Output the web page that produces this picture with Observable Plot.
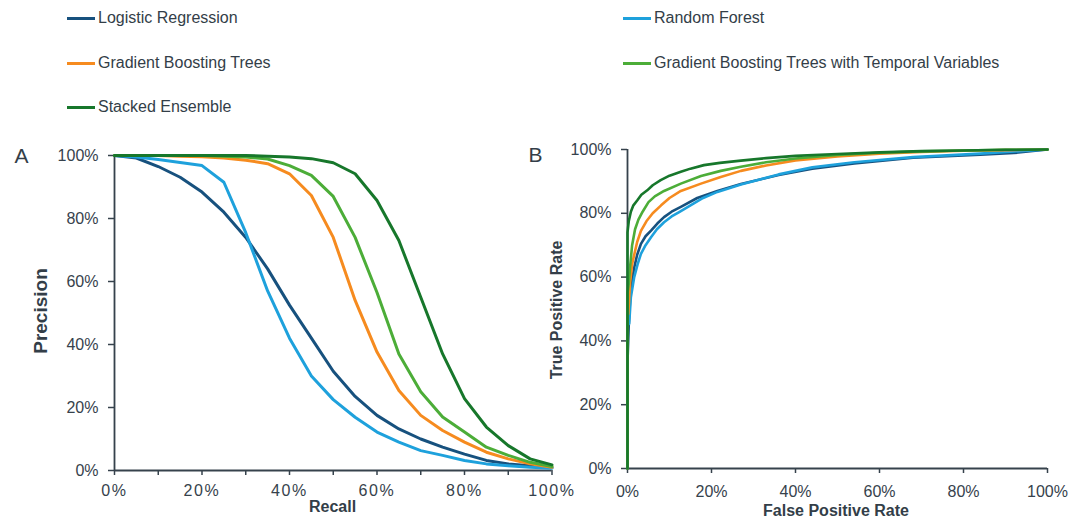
<!DOCTYPE html>
<html><head><meta charset="utf-8">
<script src="https://cdn.jsdelivr.net/npm/d3@7"></script>
<script src="https://cdn.jsdelivr.net/npm/@observablehq/plot@0.6"></script>
<style>
body{margin:0;background:#fff;font-family:"Liberation Sans",Arial,sans-serif;color:#333e48}
#wrap{position:relative;width:1083px;height:521px;overflow:hidden}
.abs{position:absolute;white-space:nowrap;line-height:1}
.leg{position:absolute;display:flex;align-items:center;font-size:16px;height:20px;white-space:nowrap}
.sw{width:28px;height:3px;margin-right:3px}
.panel{position:absolute;top:130px}
</style></head><body><div id="wrap"></div>
<script>
// ---------- data ----------
const modelNames = ["Logistic Regression","Random Forest","Gradient Boosting Trees","Gradient Boosting Trees with Temporal Variables","Stacked Ensemble"];
const modelColors = ["#17517e","#1ea1dc","#f68b1f","#4cad38","#17772b"];

// Panel A: precision (%) at recall (%)
const recall   = [0,5,10,15,20,25,30,35,40,45,50,55,60,65,70,75,80,85,90,95,100];
const precLR   = [100,99.2,96.5,93.1,88.4,82,74,64,52.5,42,31.5,23.5,17.5,13.2,10,7.4,5.2,3.2,2.1,1.5,0.9];
const precRF   = [100,99.5,98.7,97.8,96.8,91.5,75.5,57,42,30,22.5,16.9,12.2,9,6.3,4.8,3.2,2.1,1.5,1,0.7];
const precGBT  = [100,100,100,99.8,99.6,99.2,98.5,97.4,94.2,87.3,74,54,37.6,25.4,17.5,12.7,9,5.8,3.7,2.1,1];
const precGBTT = [100,100,100,100,100,99.8,99.5,98.9,96.8,93.7,87,74,56.5,37,25,17,12.2,7.4,4.8,2.6,1.3];
const precSE   = [100,100,100,100,100,100,100,99.8,99.5,99,97.7,94.2,85.7,73,55,37,22.8,13.8,7.9,3.7,1.8];

// Panel B: ROC curves, false positive rate (%) and true positive rate (%)
const fprLR   = [0,0,0.3,0.6,1,1.6,2.3,3.2,4.3,5.6,7.1,8.7,10.5,12.7,16.6,21.4,27,36,44,54,68,84,92,100];
const tprLR   = [0,33.5,45,52.7,58,63,67,70.4,72.8,74.6,76.8,78.8,80.5,82,84.8,87,89.2,92,94,95.6,97.4,98.4,98.9,100];
const fprRF   = [0,0,0.4,0.8,1.6,2.4,3.2,4.3,5.6,7,8.7,10.5,12.3,15,18,21.4,27,36,44,54,68,84,100];
const tprRF   = [0,45,45.4,53.7,60,64,67.3,70,72.5,75,77.2,79,80.4,82.5,84.8,86.7,89,92.2,94.4,96,97.6,98.7,100];
const fprGBT  = [0,0,0.2,0.6,1.1,1.6,2.3,3.2,4.5,6,8,10,12.7,17.5,22.2,27,33,40,50,60,70,80,90,100];
const tprGBT  = [0,48,48.5,58,64,67,71,74.5,77.5,80,82.5,84.8,87,89.3,91.4,93.3,95,96.6,97.8,98.7,99.2,99.6,99.8,100];
const fprGBTT = [0,0,0.3,0.6,1.1,1.8,2.6,3.6,5,6.5,8.7,12.7,17.5,22.2,27,33,40,50,60,70,80,90,100];
const tprGBTT = [0,55,58,63,70,75,78,80.5,83.5,85.3,87,89.3,91.7,93.3,94.6,96,97.2,98.3,99,99.4,99.7,99.9,100];
const fprSE   = [0,0,0.3,0.8,1.4,2.3,3.3,4.7,6,7.9,10,12.7,15,18.2,22,27,33,40,50,60,70,80,90,100];
const tprSE   = [0,74,77.5,80.5,82.5,84,85.8,87.2,88.8,90.4,91.8,93,94,95.1,95.8,96.5,97.3,98,98.6,99.1,99.5,99.7,99.9,100];

const yTicks = [0,20,40,60,80,100];
const xTicksA = [0,20,40,60,80,100];
const xMinorA = [0,10,20,30,40,50,60,70,80,90,100];
const xTicksB = [0,20,40,60,80,100];
const panelLetters = ["A","B"];
const axisTitles = {recall:"Recall", precision:"Precision", fpr:"False Positive Rate", tpr:"True Positive Rate"};

// ---------- build ----------
const wrap = document.getElementById("wrap");
const axisColor = "#36424c";
const pct = d3.format(".0%");

const prSeries = [precLR, precRF, precGBT, precGBTT, precSE].map((p, k) =>
  recall.map((r, i) => ({x: r/100, y: p[i]/100, k})));
const rocSeries = [[fprLR,tprLR],[fprRF,tprRF],[fprGBT,tprGBT],[fprGBTT,tprGBTT],[fprSE,tprSE]].map(([f,t], k) =>
  f.map((v, i) => ({x: v/100, y: t[i]/100, k})));

const common = {
  style: {fontFamily: '"Liberation Sans", Arial, sans-serif', fontSize: "16px", color: axisColor, overflow: "visible", background: "transparent"},
  x: {domain: [0,1]}, y: {domain: [0,1]}
};

// Panel A
const plotA = Plot.plot({
  ...common,
  width: 560, height: 391,
  marginLeft: 114, marginRight: 8.5, marginTop: 25, marginBottom: 51,
  marks: [
    Plot.axisY(yTicks.map(d=>d/100), {tickFormat: pct, tickSize: 6, tickPadding: 10, fontSize: 16, label: null, strokeWidth: 1.5}),
    Plot.axisX(xMinorA.map(d=>d/100), {tickFormat: () => "", tickSize: 5, label: null, strokeWidth: 1.5}),
    Plot.axisX(xTicksA.map(d=>d/100), {tickFormat: pct, tickSize: 0, tickPadding: 14, fontSize: 16, label: null}),
    Plot.ruleX([0], {stroke: axisColor, strokeWidth: 1.8}),
    Plot.ruleY([0], {stroke: axisColor, strokeWidth: 1.8}),
    ...prSeries.map((s, k) => Plot.line(s, {x: "x", y: "y", stroke: modelColors[k], strokeWidth: 3}))
  ]
});
plotA.classList.add("panel");
plotA.style.left = "0px";
wrap.appendChild(plotA);
d3.select(plotA).selectAll('g[aria-label="x-axis tick label"] text').style("letter-spacing", "1.6px");

// Panel B
const plotB = Plot.plot({
  ...common,
  width: 523, height: 391,
  marginLeft: 67, marginRight: 36, marginTop: 19, marginBottom: 53,
  marks: [
    Plot.axisY(yTicks.map(d=>d/100), {tickFormat: pct, tickSize: 6, tickPadding: 10, fontSize: 16, label: null, strokeWidth: 1.5}),
    Plot.axisX(xTicksB.map(d=>d/100), {tickFormat: pct, tickSize: 5, tickPadding: 12, fontSize: 16, label: null, strokeWidth: 1.5}),
    Plot.ruleX([0], {stroke: axisColor, strokeWidth: 1.8}),
    Plot.ruleY([0], {stroke: axisColor, strokeWidth: 1.8}),
    ...rocSeries.map((s, k) => Plot.line(s, {x: "x", y: "y", stroke: modelColors[k], strokeWidth: 2.6}))
  ]
});
plotB.classList.add("panel");
plotB.style.left = "560px";
wrap.appendChild(plotB);

// Legend
const legPos = [[67,18],[623,18],[67,63],[623,63],[67,107]];
const legOrder = [0,1,2,3,4];
legOrder.forEach((k, i) => {
  const [x, y] = legPos[i];
  const d = document.createElement("div");
  d.className = "leg";
  d.style.left = x + "px";
  d.style.top = (y - 10) + "px";
  d.innerHTML = `<span class="sw" style="background:${modelColors[k]}"></span><span>${modelNames[k]}</span>`;
  wrap.appendChild(d);
});

// Text labels
function addText(txt, cx, cy, css) {
  const d = document.createElement("div");
  d.className = "abs";
  d.textContent = txt;
  d.style.left = cx + "px";
  d.style.top = cy + "px";
  Object.assign(d.style, css);
  wrap.appendChild(d);
}
addText(panelLetters[0], 21.5, 155, {fontSize: "21px", transform: "translate(-50%,-50%)"});
addText(panelLetters[1], 535.5, 154, {fontSize: "21px", transform: "translate(-50%,-50%)"});
addText(axisTitles.precision, 40, 311, {fontSize: "19px", fontWeight: "bold", transform: "translate(-50%,-50%) rotate(-90deg)"});
addText(axisTitles.recall, 332.5, 507, {fontSize: "16px", fontWeight: "bold", transform: "translate(-50%,-50%)"});
addText(axisTitles.tpr, 557, 310, {fontSize: "16px", fontWeight: "bold", transform: "translate(-50%,-50%) rotate(-90deg)"});
addText(axisTitles.fpr, 836, 511, {fontSize: "16px", fontWeight: "bold", transform: "translate(-50%,-50%)"});
</script></body></html>
